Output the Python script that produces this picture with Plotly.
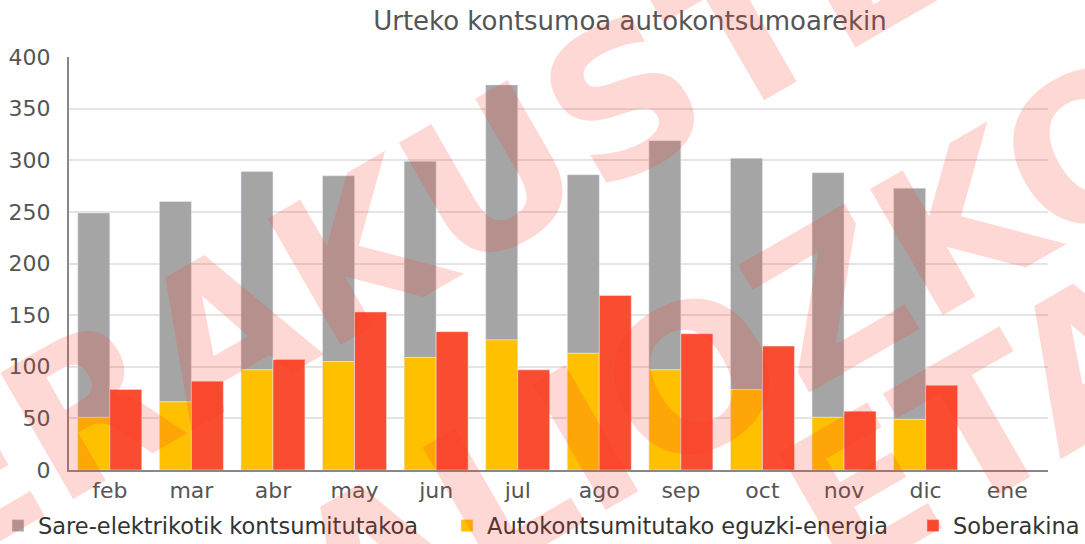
import plotly.graph_objects as go

months = ["feb", "mar", "abr", "may", "jun", "jul", "ago", "sep", "oct", "nov", "dic", "ene"]
grid = [198, 194, 192, 180, 190, 247, 173, 222, 224, 237, 224, None]
solar = [51, 66, 97, 105, 109, 126, 113, 97, 78, 51, 49, None]
surplus = [78, 86, 107, 153, 134, 97, 169, 132, 120, 57, 82, None]
y_ticks = [0, 50, 100, 150, 200, 250, 300, 350, 400]

names = ["Sare-elektrikotik kontsumitutakoa", "Autokontsumitutako eguzki-energia", "Soberakina"]
title = "Urteko kontsumoa autokontsumoarekin"
watermark = ["ERAKUSTEKO", "BALIOZKO", "ETA"]

GRAY = "#a5a5a5"
YELLOW = "#ffc000"
RED = "#fa4c30"
FONT = "DejaVu Sans"

W, H = 1085, 544
L, R, T, B = 69, 37, 57, 74
pw, ph = W - L - R, H - T - B

def px(x):
    return (x - L) / pw

def py(y):
    return (H - B - y) / ph

fig = go.Figure()
fig.add_trace(go.Bar(x=months, y=grid, base=solar, name=names[0], marker_color=GRAY,
                     offsetgroup="a", legend="legend", showlegend=True))
fig.add_trace(go.Bar(x=months, y=solar, name=names[1], marker_color=YELLOW,
                     offsetgroup="a", legend="legend2", showlegend=True))
fig.add_trace(go.Bar(x=months, y=surplus, name=names[2], marker_color=RED,
                     offsetgroup="b", legend="legend3", showlegend=True))

leg_common = dict(orientation="h", xanchor="left", yanchor="middle", visible=True,
                  font=dict(family=FONT, size=22.5, color="#333"),
                  bgcolor="rgba(0,0,0,0)", itemclick=False)

wm_font = dict(family=FONT, size=200, color="rgba(250,60,40,0.2)", weight="bold")
annotations = [
    dict(text=watermark[0], x=px(550), y=py(143), xref="paper", yref="paper",
         showarrow=False, textangle=-30, font=wm_font, xanchor="center", yanchor="middle"),
    dict(text=watermark[1], x=px(672), y=py(391), xref="paper", yref="paper",
         showarrow=False, textangle=-30, font=wm_font, xanchor="center", yanchor="middle"),
    dict(text=watermark[2], x=px(980), y=py(425), xref="paper", yref="paper",
         showarrow=False, textangle=-30, font=wm_font, xanchor="center", yanchor="middle"),
]

fig.update_layout(
    width=W, height=H, showlegend=True,
    margin=dict(l=L, r=R, t=T, b=B, autoexpand=False),
    paper_bgcolor="white", plot_bgcolor="white",
    barmode="group", bargap=0.216, bargroupgap=0,
    title=dict(text=title, x=630 / W, xanchor="center", y=1 - 21 / H, yanchor="middle",
               font=dict(family=FONT, size=26, color="#555")),
    xaxis=dict(type="category", categoryorder="array", categoryarray=months,
               range=[-0.5, 11.5], showline=True, linecolor="#888", linewidth=2,
               showgrid=False, ticks="", tickfont=dict(family=FONT, size=22, color="#555")),
    yaxis=dict(range=[0, 400], tickvals=y_ticks, showline=True, linecolor="#888", linewidth=2,
               gridcolor="#e4e4e4", gridwidth=2, zeroline=False,
               ticks="outside", ticklen=12, tickcolor="rgba(0,0,0,0)",
               tickfont=dict(family=FONT, size=22, color="#555")),
    legend=dict(x=px(-2), y=py(526), **leg_common),
    legend2=dict(x=px(447), y=py(526), **leg_common),
    legend3=dict(x=px(913), y=py(526), **leg_common),
    annotations=annotations,
)

fig.write_html("out.html", config={"displayModeBar": False},
               post_script="document.body.style.margin='0';document.body.style.overflow='hidden';")
